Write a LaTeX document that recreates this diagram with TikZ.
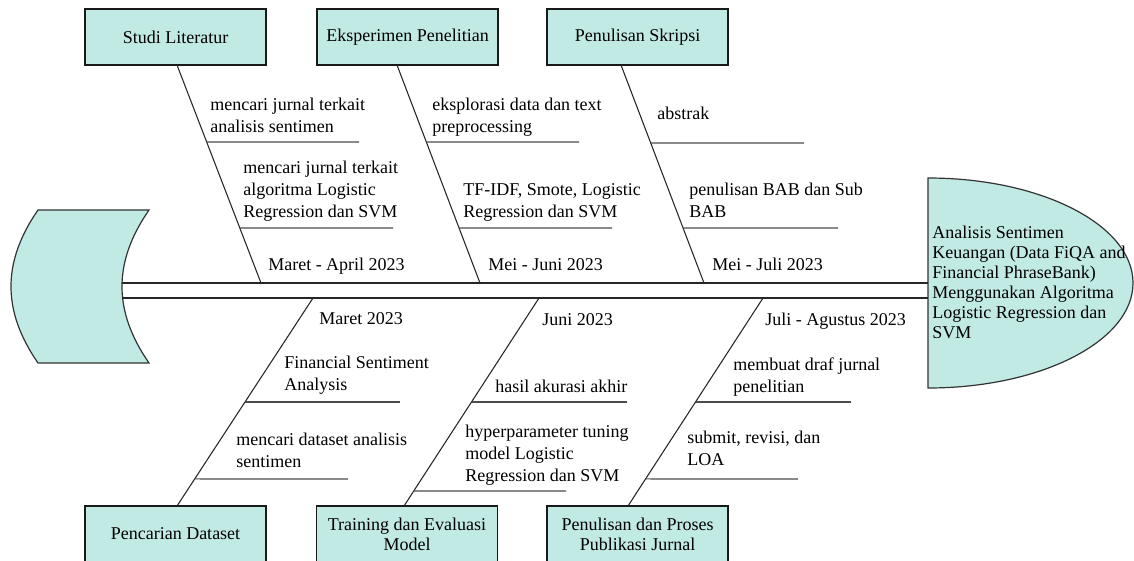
\documentclass[tikz,border=0pt]{standalone}
\usepackage{fontspec}
\setmainfont{Liberation Serif}
\newcommand\lblfont{\fontsize{13.5}{16.5}\selectfont}
\newcommand\boxfont{\fontsize{13.5}{15}\selectfont}
\definecolor{fishfill}{RGB}{193,234,229}
\begin{document}
\begin{tikzpicture}[x=0.75pt,y=-0.75pt,
  catbox/.style={draw=black!90, line width=1pt, fill=fishfill, minimum width=135.75pt, minimum height=42pt, inner sep=0pt, align=center, font=\boxfont},
  lbl/.style={anchor=north west, inner sep=0pt, align=left, font=\lblfont},
  bone/.style={draw=black!85, line width=0.8pt},
  subline/.style={draw=black!70, line width=0.8pt},
  fishpart/.style={draw=black!80, line width=0.9pt, fill=fishfill}]
\useasboundingbox (0,0) rectangle (1134,560);

% tail
\path[fishpart] (38,210) -- (149,210) .. controls (113,262) and (113,311) .. (149,363)
  -- (38,363) .. controls (2,311) and (2,262) .. (38,210) -- cycle;
% head
\path[fishpart] (928,178) .. controls (1041.2,178) and (1133,225) .. (1133,283)
  .. controls (1133,341) and (1041.2,388) .. (928,388) -- cycle;
\node[lbl, font=\boxfont] (head) at (932,226) {Analisis Sentimen\\Keuangan (Data FiQA and\\Financial PhraseBank)\\Menggunakan Algoritma\\Logistic Regression dan\\SVM};

% spine
\coordinate (spTL) at (122.3,283); \coordinate (spTR) at (928,283);
\coordinate (spBL) at (122.3,298); \coordinate (spBR) at (928,298);
\draw[bone] (spTL) -- (spTR);
\draw[bone] (spBL) -- (spBR);

% boxes
\node[catbox] (studi) at (175.5,37) {Studi Literatur};
\node[catbox] (eksp) at (407.5,37) {Eksperimen Penelitian};
\node[catbox] (skripsi) at (637.5,37) {Penulisan Skripsi};
\node[catbox] (dataset) at (175.5,534) {Pencarian Dataset};
\node[catbox] (training) at (407,534) {Training dan Evaluasi\\Model};
\node[catbox] (publikasi) at (637.5,534) {Penulisan dan Proses\\Publikasi Jurnal};

% bones
\coordinate (s1) at (177,65); \coordinate (e1) at (261,283);
\coordinate (s2) at (397,65); \coordinate (e2) at (480,283);
\coordinate (s3) at (621,65); \coordinate (e3) at (704,283);
\coordinate (s4) at (177,506); \coordinate (e4) at (313,298);
\coordinate (s5) at (404,506); \coordinate (e5) at (539,298);
\coordinate (s6) at (628,506); \coordinate (e6) at (763,298);
\draw[bone] (s1) -- (e1) coordinate[pos=0.3532] (p1a) coordinate[pos=0.7477] (p1b);
\draw[bone] (s2) -- (e2) coordinate[pos=0.3532] (p2a) coordinate[pos=0.7477] (p2b);
\draw[bone] (s3) -- (e3) coordinate[pos=0.3578] (p3a) coordinate[pos=0.7477] (p3b);
\draw[bone] (e4) -- (s4) coordinate[pos=0.5] (p4a) coordinate[pos=0.870] (p4b);
\draw[bone] (e5) -- (s5) coordinate[pos=0.5] (p5a) coordinate[pos=0.928] (p5b);
\draw[bone] (e6) -- (s6) coordinate[pos=0.5] (p6a) coordinate[pos=0.870] (p6b);

% sub-branch lines
\coordinate (q1a) at (359,142); \coordinate (q1b) at (393,228);
\coordinate (q2a) at (579,142); \coordinate (q2b) at (612,228);
\coordinate (q3a) at (804,143); \coordinate (q3b) at (838,228);
\coordinate (q4a) at (400,402); \coordinate (q4b) at (348,479);
\coordinate (q5a) at (627,402); \coordinate (q5b) at (566,491);
\coordinate (q6a) at (851,402); \coordinate (q6b) at (798,479);
\draw[subline] (p1a) -- (q1a);
\draw[subline] (p1b) -- (q1b);
\draw[subline] (p2a) -- (q2a);
\draw[subline] (p2b) -- (q2b);
\draw[subline] (p3a) -- (q3a);
\draw[subline] (p3b) -- (q3b);
\draw[subline] (p4a) -- (q4a);
\draw[subline] (p4b) -- (q4b);
\draw[subline] (p5a) -- (q5a);
\draw[subline] (p5b) -- (q5b);
\draw[subline] (p6a) -- (q6a);
\draw[subline] (p6b) -- (q6b);

% labels top
\node[lbl] (t1a) at (210,98) {mencari jurnal terkait\\analisis sentimen};
\node[lbl] (t1b) at (243,161) {mencari jurnal terkait\\algoritma Logistic\\Regression dan SVM};
\node[lbl] (t1c) at (268,258) {Maret - April 2023};
\node[lbl] (t2a) at (432,98) {eksplorasi data dan text\\preprocessing};
\node[lbl] (t2b) at (463,183) {TF-IDF, Smote, Logistic\\Regression dan SVM};
\node[lbl] (t2c) at (488,258) {Mei - Juni 2023};
\node[lbl] (t3a) at (657,107) {abstrak};
\node[lbl] (t3b) at (689,183) {penulisan BAB dan Sub\\BAB};
\node[lbl] (t3c) at (712,258) {Mei - Juli 2023};
% labels bottom
\node[lbl] (b1c) at (319,312) {Maret 2023};
\node[lbl] (b1a) at (284,356) {Financial Sentiment\\Analysis};
\node[lbl] (b1b) at (236,433) {mencari dataset analisis\\sentimen};
\node[lbl] (b2c) at (542,313) {Juni 2023};
\node[lbl] (b2a) at (495,380) {hasil akurasi akhir};
\node[lbl] (b2b) at (465,425) {hyperparameter tuning\\model Logistic\\Regression dan SVM};
\node[lbl] (b3c) at (765,313) {Juli - Agustus 2023};
\node[lbl] (b3a) at (733,358) {membuat draf jurnal\\penelitian};
\node[lbl] (b3b) at (687,431) {submit, revisi, dan\\LOA};
\end{tikzpicture}
\end{document}
